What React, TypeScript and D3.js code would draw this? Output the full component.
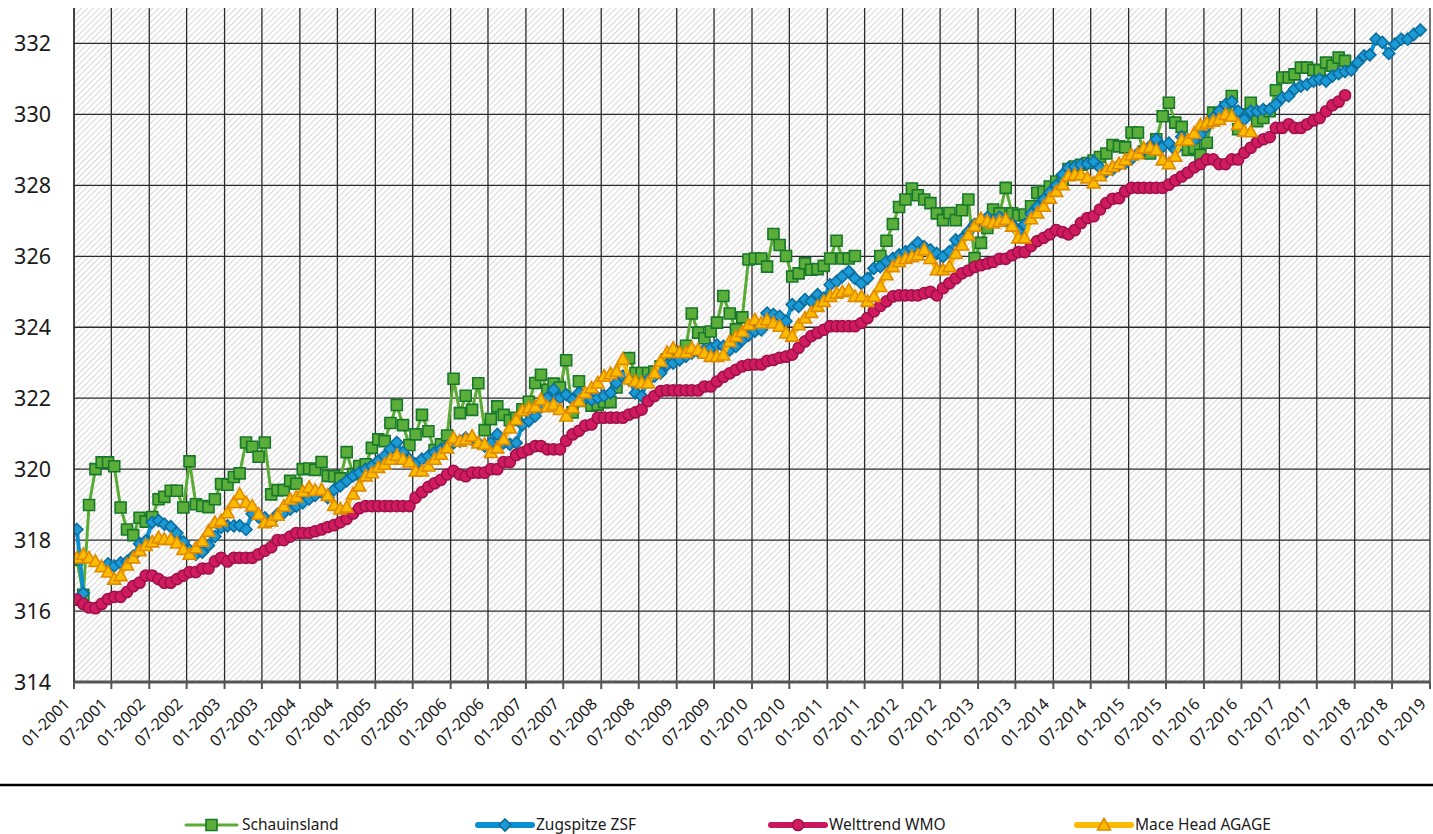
import React from "react";
import * as d3 from "d3";

// monthly values starting 01-2001 (null = no data)
const schauinsland: (number | null)[] = [
  317.45, 316.46, 318.99, 320.0, 320.19, 320.19, 320.08, 318.92, 318.3, 318.14, 318.63, 318.52,
  318.65, 319.15, 319.22, 319.39, 319.39, 318.92, 320.22, 319.01, 318.96, 318.93, 319.15, 319.58,
  319.56, 319.78, 319.88, 320.75, 320.63, 320.35, 320.75, 319.29, 319.41, 319.41, 319.67, 319.59,
  320.0, 320.02, 319.98, 320.2, 319.81, 319.8, 319.74, 320.48, 319.86, 320.09, 320.14, 320.6,
  320.84, 320.79, 321.3, 321.81, 321.24, 320.68, 320.98, 321.53, 321.07, 320.54, 320.7, 320.95,
  322.55, 321.58, 322.07, 321.67, 322.42, 321.1, 321.41, 321.77, 321.53, 321.38, 321.45, 321.69,
  321.9, 322.43, 322.66, 322.24, 322.41, 322.3, 323.07, 321.6, 322.48, 321.92, 321.79, 321.82,
  321.89, 321.89, 322.3, 322.6, 323.13, 322.71, 322.71, 322.71, 322.75, 322.9, 323.1, 323.2,
  323.3, 323.48, 324.39, 323.85, 323.69, 323.88, 324.13, 324.88, 324.39, 323.94, 324.28, 325.91,
  325.94, 325.94, 325.71, 326.63, 326.32, 326.01, 325.43, 325.52, 325.8, 325.62, 325.64, 325.73,
  325.94, 326.44, 325.94, 325.94, 326.01, null, null, null, 326.01, 326.44, 326.91, 327.39,
  327.6, 327.91, 327.72, 327.6, 327.5, 327.21, 327.02, 327.22, 327.02, 327.3, 327.6, 325.95,
  326.38, 326.8, 327.32, 327.21, 327.93, 327.21, 327.15, 327.18, 327.41, 327.79, 327.83, 327.97,
  328.11, 328.16, 328.46, 328.53, 328.58, 328.63, 328.7, 328.8, 328.9, 329.14, 329.1, 329.07,
  329.49, 329.49, 328.95, 328.9, 329.3, 329.95, 330.33, 329.77, 329.65, 329.0, 329.05, 328.86,
  329.2, 330.05, 330.0, 330.2, 330.52, 329.58, 330.0, 330.33, 329.81, 329.9, 330.09, 330.68,
  331.04, 331.04, 331.13, 331.32, 331.32, 331.25, 331.25, 331.46, 331.37, 331.6, 331.51,
];

const zugspitze: (number | null)[] = [
  318.3, 316.5, null, null, null, 317.33, 317.27, 317.36, 317.4, 317.55, 317.9, 317.98,
  318.5, 318.55, 318.45, 318.38, 318.2, 317.95, 317.72, 317.6, 317.66, 317.85, 318.1, 318.36,
  318.4, 318.4, 318.41, 318.3, 318.74, 318.65, 318.63, 318.54, 318.73, 318.77, 318.87, 318.96,
  319.05, 319.16, 319.26, 319.35, 319.2, 319.42, 319.53, 319.67, 319.81, 319.9, 320.0, 320.09,
  320.23, 320.37, 320.56, 320.75, 320.47, 320.28, 320.14, 320.28, 320.37, 320.47, 320.56, 320.65,
  320.74, 320.79, 320.88, 320.84, 320.74, 320.65, 320.74, 320.98, 320.74, 320.7, 320.74, 321.25,
  321.36, 321.5, 321.75, 322.01, 322.24, 322.01, 322.1, 321.96, 322.15, 322.01, 321.96, 322.01,
  322.07, 322.15, 322.43, 322.62, 322.52, 322.15, 322.06, 322.52, 322.62, 322.71, 322.94, 322.99,
  323.08, 323.18, 323.27, 323.32, 323.36, 323.41, 323.5, 323.46, 323.36, 323.46, 323.64, 323.77,
  323.89, 323.93, 324.4, 324.36, 324.31, 324.17, 324.64, 324.59, 324.78, 324.73, 324.92, 324.82,
  325.2, 325.29, 325.43, 325.57, 325.38, 325.24, 325.38, 325.66, 325.71, 325.85, 325.94, 326.04,
  326.13, 326.22, 326.38, 326.27, 326.18, 326.08, 325.99, 326.13, 326.46, 326.5, 326.7, 326.9,
  327.0, 327.1, 327.0, 327.1, 327.0, 326.9, 326.7, 326.9, 327.2, 327.4, 327.6, 327.8,
  328.0, 328.3, 328.49, 328.53, 328.58, 328.61, 328.67, 328.5, 328.39, 328.45, 328.58, 328.63,
  328.75, 328.9, 329.0, 329.1, 329.3, 329.09, 329.19, 329.0, 329.37, 329.28, 329.28, 329.43,
  329.65, 329.9, 330.09, 330.28, 330.36, 330.09, 329.86, 330.09, 330.09, 330.14, 330.14, 330.28,
  330.47, 330.52, 330.71, 330.8, 330.85, 330.94, 330.99, 330.94, 331.08, 331.15, 331.21, 331.25,
  331.46, 331.65, 331.68, 332.12, 332.03, 331.72, 331.98, 332.12, 332.12, 332.26, 332.38,
];

const welttrend: (number | null)[] = [
  316.32, 316.2, 316.1, 316.08, 316.2, 316.34, 316.4, 316.4, 316.54, 316.7, 316.8, 317.0,
  317.0, 316.9, 316.8, 316.8, 316.9, 317.0, 317.1, 317.1, 317.2, 317.2, 317.4, 317.5,
  317.4, 317.5, 317.5, 317.5, 317.5, 317.6, 317.7, 317.8, 318.0, 318.0, 318.1, 318.2,
  318.2, 318.2, 318.25, 318.3, 318.37, 318.42, 318.5, 318.6, 318.75, 318.9, 318.96, 318.96,
  318.96, 318.96, 318.96, 318.96, 318.96, 318.96, 319.2, 319.35, 319.5, 319.6, 319.7, 319.85,
  319.95, 319.85, 319.8, 319.9, 319.9, 319.9, 320.0, 320.0, 320.2, 320.2, 320.4, 320.47,
  320.56, 320.65, 320.65, 320.56, 320.56, 320.56, 320.8, 320.98, 321.08, 321.23, 321.26, 321.45,
  321.45, 321.45, 321.45, 321.45, 321.54, 321.6, 321.68, 321.92, 322.06, 322.2, 322.22, 322.22,
  322.22, 322.22, 322.22, 322.22, 322.33, 322.33, 322.47, 322.6, 322.7, 322.8, 322.9, 322.94,
  322.95, 322.95, 323.05, 323.08, 323.14, 323.17, 323.23, 323.42, 323.6, 323.75, 323.84, 323.93,
  324.03, 324.03, 324.03, 324.03, 324.03, 324.12, 324.26, 324.45, 324.6, 324.73, 324.87, 324.9,
  324.9, 324.9, 324.9, 324.96, 325.0, 324.9, 325.1, 325.24, 325.38, 325.52, 325.6, 325.7,
  325.75, 325.8, 325.84, 325.93, 325.93, 326.03, 326.12, 326.12, 326.29, 326.43, 326.52, 326.62,
  326.74, 326.68, 326.62, 326.74, 326.94, 327.08, 327.13, 327.32, 327.5, 327.62, 327.64, 327.83,
  327.93, 327.93, 327.93, 327.93, 327.93, 327.93, 328.02, 328.14, 328.25, 328.36, 328.51, 328.6,
  328.73, 328.73, 328.6, 328.6, 328.73, 328.73, 328.92, 329.06, 329.22, 329.3, 329.36, 329.62,
  329.62, 329.72, 329.62, 329.62, 329.72, 329.83, 329.9, 330.09, 330.26, 330.36, 330.54,
];

const maceHead: (number | null)[] = [
  317.5, 317.6, 317.5, 317.4, 317.25, 317.1, 316.9, 317.0, 317.3, 317.5, 317.7, 317.85,
  317.95, 318.07, 318.02, 318.02, 317.92, 317.74, 317.6, 317.78, 317.97, 318.25, 318.5, 318.55,
  318.77, 319.06, 319.29, 319.06, 318.96, 318.73, 318.49, 318.54, 318.7, 318.96, 319.15, 319.22,
  319.37, 319.49, 319.4, 319.42, 319.26, 318.98, 318.88, 318.93, 319.3, 319.53, 319.81, 319.9,
  320.05, 320.14, 320.28, 320.39, 320.28, 320.2, 319.95, 319.95, 320.09, 320.28, 320.42, 320.6,
  320.88, 320.79, 320.84, 320.93, 320.74, 320.7, 320.47, 320.6, 320.84, 321.16, 321.4, 321.65,
  321.73, 321.76, 321.96, 321.76, 321.82, 321.68, 321.5, 321.73, 321.92, 322.15, 322.29, 322.43,
  322.62, 322.69, 322.76, 323.1, 322.54, 322.48, 322.43, 322.43, 322.71, 323.04, 323.29, 323.41,
  323.29, 323.29, 323.41, 323.36, 323.27, 323.18, 323.18, 323.22, 323.6, 323.74, 323.88, 324.07,
  324.21, 324.12, 324.21, 324.12, 324.03, 323.84, 323.75, 324.07, 324.26, 324.42, 324.59, 324.73,
  324.87, 324.96, 325.0, 325.05, 324.87, 324.87, 324.73, 324.87, 325.15, 325.48, 325.71, 325.85,
  325.94, 325.99, 326.04, 326.18, 325.94, 325.62, 325.62, 325.71, 326.08, 326.32, 326.6, 326.85,
  327.06, 326.99, 326.94, 326.99, 327.04, 326.85, 326.52, 326.52, 327.06, 327.22, 327.41, 327.64,
  327.83, 328.02, 328.27, 328.3, 328.3, 328.21, 328.07, 328.27, 328.44, 328.53, 328.61, 328.72,
  328.86, 328.89, 329.05, 329.07, 329.0, 328.72, 328.61, 328.82, 329.28, 329.28, 329.47, 329.7,
  329.76, 329.81, 329.86, 330.0, 329.95, 329.72, 329.53, 329.51,
];

const yTicks = [314, 316, 318, 320, 322, 324, 326, 328, 330, 332];
const seriesNames = ["Schauinsland", "Zugspitze ZSF", "Welttrend WMO", "Mace Head AGAGE"];

const W = 1433;
const H = 834;
const FONT = "'Noto Sans', 'Open Sans', sans-serif";

type Marker = "square" | "diamond" | "circle" | "triangle";
const styles: { line: string; lw: number; fill: string; stroke: string; marker: Marker }[] = [
  { line: "#5aab33", lw: 3, fill: "#5cae3a", stroke: "#17782a", marker: "square" },
  { line: "#0a8fd0", lw: 4, fill: "#1c9ad6", stroke: "#0b6e9f", marker: "diamond" },
  { line: "#c9175b", lw: 4, fill: "#d11b60", stroke: "#9e1048", marker: "circle" },
  { line: "#fbb900", lw: 4.5, fill: "#fbbb00", stroke: "#e08a00", marker: "triangle" },
];

function markerPath(m: Marker): string {
  if (m === "square") return "M-5.5,-5.5H5.5V5.5H-5.5Z";
  if (m === "diamond") return "M0,-6L6,0L0,6L-6,0Z";
  if (m === "triangle") return "M0,-6.5L6.5,5L-6.5,5Z";
  return "";
}

function MarkerShape({ m, x, y, fill, stroke }: { m: Marker; x: number; y: number; fill: string; stroke: string }) {
  if (m === "circle")
    return <circle cx={x} cy={y} r={5.6} fill={fill} stroke={stroke} strokeWidth={1.5} />;
  return (
    <path d={markerPath(m)} transform={`translate(${x},${y})`} fill={fill} stroke={stroke} strokeWidth={1.6} strokeLinejoin="miter" />
  );
}

export default function App() {
  const left = 74, right = 1430, top = 8, bottom = 682;
  const x = d3.scaleTime().domain([new Date(2001, 0, 1), new Date(2019, 0, 1)]).range([left, right]);
  const y = d3.scaleLinear().domain([314, 333]).range([bottom, top]);

  const allSeries = [schauinsland, zugspitze, welttrend, maceHead];
  const dateOf = (i: number) => new Date(2001, i, 15);

  const gridDates: Date[] = [];
  for (let yr = 2001; yr <= 2019; yr++) {
    gridDates.push(new Date(yr, 0, 1));
    if (yr < 2019) gridDates.push(new Date(yr, 6, 1));
  }
  const fmt = d3.timeFormat("%m-%Y");

  const legendPos = [
    { x1: 186, x2: 237, tx: 242 },
    { x1: 478, x2: 532, tx: 536 },
    { x1: 771, x2: 825, tx: 829 },
    { x1: 1077, x2: 1131, tx: 1135 },
  ];

  return (
    <svg width={W} height={H} style={{ position: "absolute", left: 0, top: 0, background: "#fff" }} fontFamily={FONT}>
      <defs>
        <pattern id="hatch" patternUnits="userSpaceOnUse" width={4.2} height={4.2} patternTransform="rotate(45)">
          <rect width={4.2} height={4.2} fill="#ffffff" />
          <line x1={0} y1={0} x2={0} y2={4.2} stroke="#d6d6d6" strokeWidth={2} />
        </pattern>
        <clipPath id="plotclip">
          <rect x={left} y={0} width={right - left + 8} height={bottom} />
        </clipPath>
      </defs>
      <rect x={left} y={top} width={right - left} height={bottom - top} fill="url(#hatch)" />

      {/* horizontal grid */}
      {yTicks.map((t) => (
        <line key={"h" + t} x1={left} x2={right} y1={y(t)} y2={y(t)} stroke="#2b2b2b" strokeWidth={1.3} />
      ))}
      {/* vertical grid */}
      {gridDates.map((d, i) => (
        <line key={"v" + i} x1={x(d)} x2={x(d)} y1={top} y2={bottom} stroke="#2b2b2b" strokeWidth={1.3} />
      ))}

      {/* series */}
      <g clipPath="url(#plotclip)">
        {allSeries.map((s, si) => {
          const st = styles[si];
          const line = d3
            .line<number | null>()
            .defined((v) => v != null)
            .x((_, i) => x(dateOf(i)))
            .y((v) => y(v as number));
          return (
            <g key={"s" + si}>
              <path d={line(s) || ""} fill="none" stroke={st.line} strokeWidth={st.lw} strokeLinejoin="round" />
              {s.map((v, i) =>
                v == null ? null : (
                  <MarkerShape key={i} m={st.marker} x={x(dateOf(i))} y={y(v)} fill={st.fill} stroke={st.stroke} />
                )
              )}
            </g>
          );
        })}
      </g>

      {/* x axis */}
      <line x1={left} x2={right} y1={bottom} y2={bottom} stroke="#555" strokeWidth={3} />
      <line x1={left} x2={left} y1={top} y2={bottom} stroke="#333" strokeWidth={1.5} />
      {gridDates.map((d, i) => (
        <line key={"t" + i} x1={x(d)} x2={x(d)} y1={bottom} y2={bottom + 7} stroke="#555" strokeWidth={2} />
      ))}
      {gridDates.map((d, i) => (
        <text
          key={"xl" + i}
          transform={`translate(${x(d) - 3},${bottom + 23}) rotate(-45)`}
          textAnchor="end"
          fontSize={16}
          fill="#1a1a1a"
        >
          {fmt(d)}
        </text>
      ))}

      {/* y labels */}
      {yTicks.map((t) => (
        <text key={"yl" + t} x={51} y={y(t)} dy="0.35em" textAnchor="end" fontSize={21.5} fill="#1a1a1a">
          {t}
        </text>
      ))}

      {/* separator */}
      <line x1={0} x2={W} y1={785} y2={785} stroke="#000" strokeWidth={2.5} />

      {/* legend */}
      {seriesNames.map((name, i) => {
        const st = styles[i];
        const p = legendPos[i];
        const cy = 825;
        return (
          <g key={"lg" + i}>
            <line x1={p.x1} x2={p.x2} y1={cy} y2={cy} stroke={st.line} strokeWidth={i === 0 ? 3 : 6} strokeLinecap="round" />
            <MarkerShape m={st.marker} x={(p.x1 + p.x2) / 2} y={cy} fill={st.fill} stroke={st.stroke} />
            <text x={p.tx} y={830} fontSize={15.5} fill="#1a1a1a">
              {name}
            </text>
          </g>
        );
      })}
    </svg>
  );
}
